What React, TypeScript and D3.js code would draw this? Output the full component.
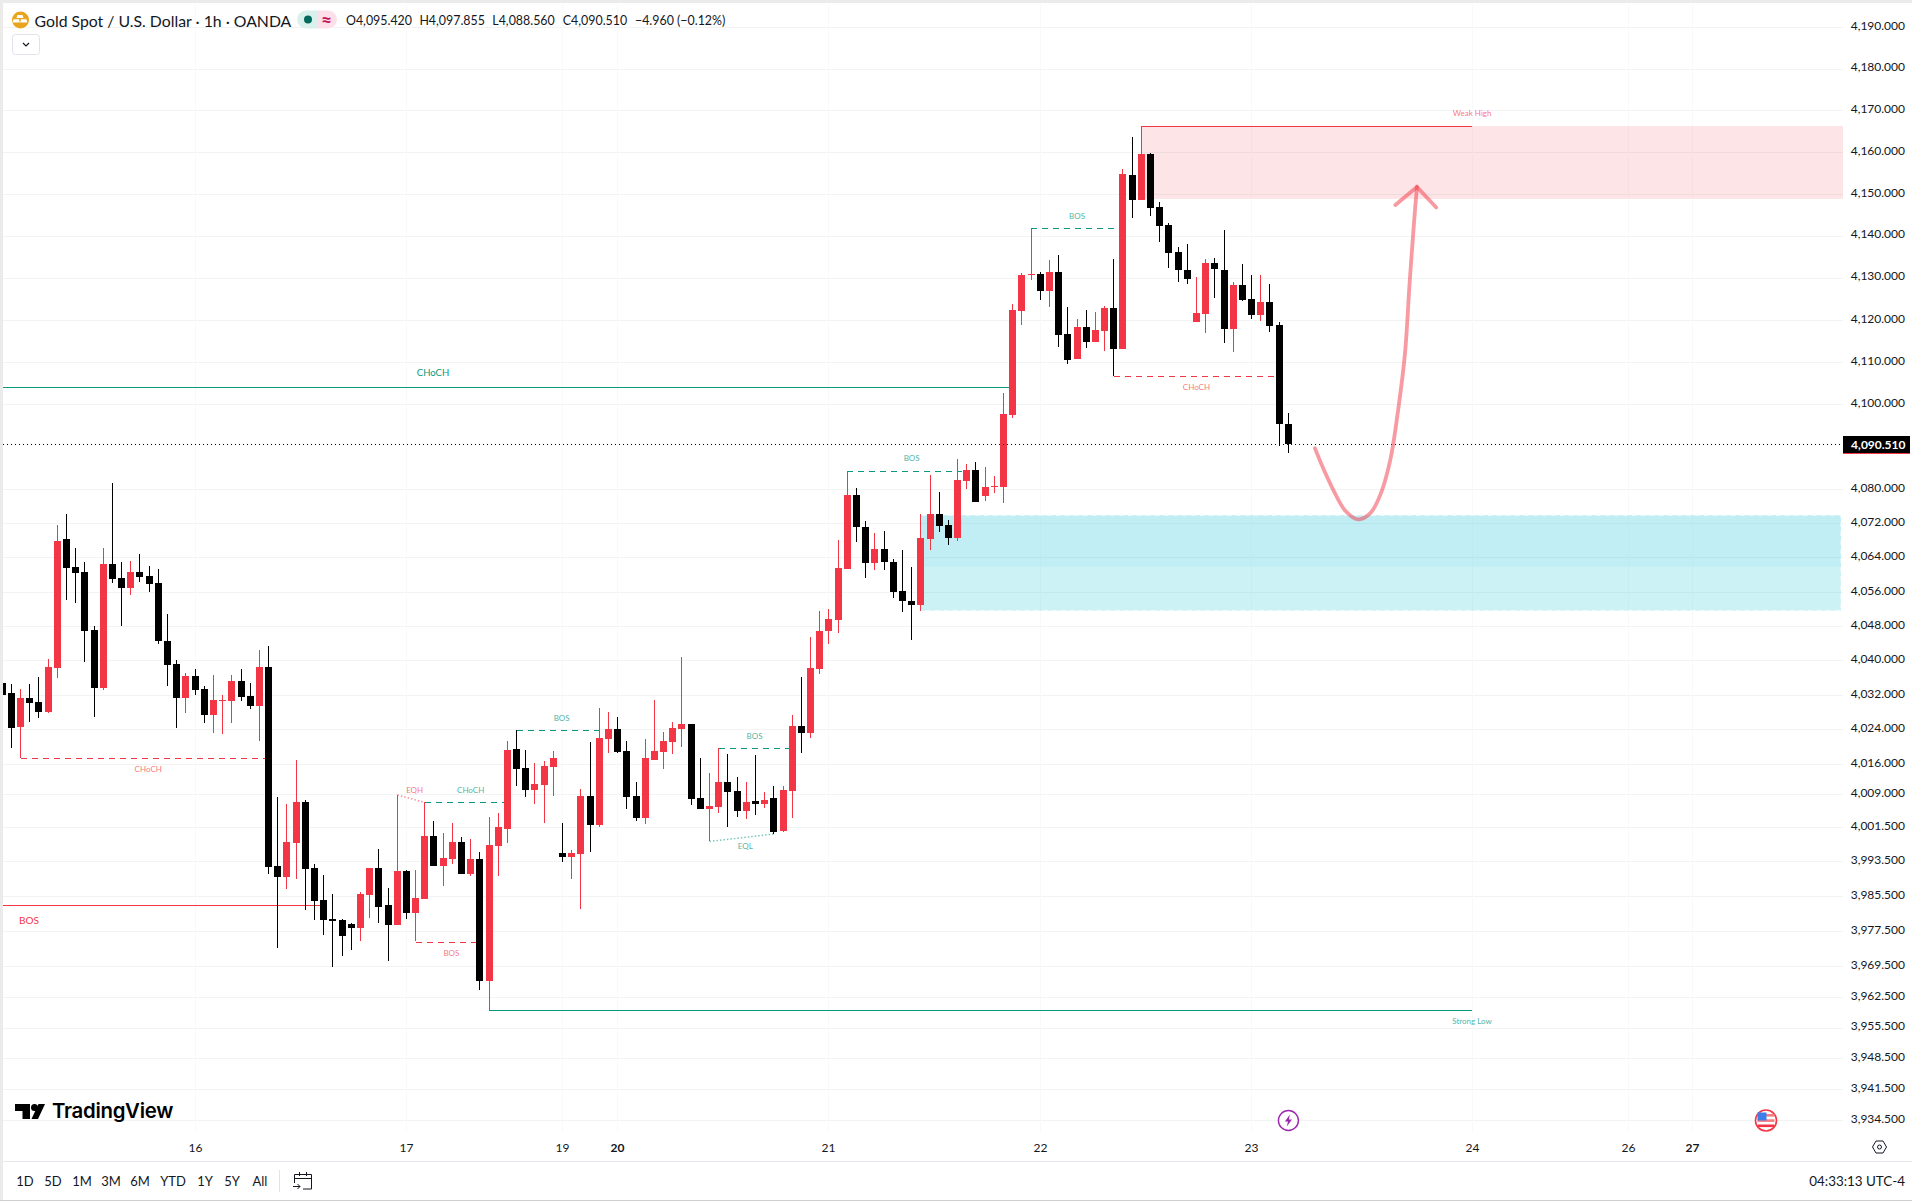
import React from "react";
import * as d3 from "d3";

const highs = [4034.8,4034.6,4033.4,4034.6,4036.2,4040.3,4071.6,4074.2,4066.1,4062.9,
4048.0,4066.2,4081.5,4062.9,4063.2,4064.8,4062.0,4061.2,4050.8,4040.1,
4037.1,4038.0,4034.1,4036.7,4032.0,4036.7,4038.0,4034.7,4042.4,4043.3,
4008.3,4006.7,4016.9,4007.7,3992.9,3990.4,3986.1,3980.3,3979.3,3986.5,
3992.0,3996.3,3987.4,4008.8,3991.6,3991.5,4007.1,4002.8,4000.1,4002.4,
3999.1,3998.6,3995.7,4003.7,4004.6,4021.3,4023.8,4019.2,4016.2,4016.7,
4019.0,4002.3,3996.1,4010.2,4021.0,4028.9,4028.0,4026.8,4021.3,4011.8,
4021.7,4030.8,4023.4,4025.7,4040.8,4025.2,4017.3,4013.8,4019.7,4018.3,
4013.0,4011.8,4018.0,4009.5,4010.9,4010.9,4027.3,4036.1,4045.4,4051.5,
4051.9,4068.1,4084.2,4080.3,4072.5,4069.7,4070.2,4063.6,4065.7,4061.8,
4074.2,4083.3,4079.3,4072.8,4087.1,4085.9,4086.4,4085.2,4083.1,4102.7,
4123.7,4131.1,4141.7,4131.3,4134.2,4135.4,4123.0,4120.2,4122.3,4121.8,
4123.2,4134.4,4155.9,4163.6,4166.2,4159.7,4148.0,4143.0,4137.3,4138.0,
4130.1,4134.4,4134.6,4141.3,4129.0,4133.2,4130.6,4130.6,4128.5,4119.5,4097.855];

const lows = [4032.0,4019.7,4017.3,4025.7,4026.7,4027.7,4035.9,4054.0,4053.4,4039.6,
4026.9,4033.1,4058.0,4048.0,4055.2,4058.3,4055.9,4043.8,4034.1,4024.4,
4027.8,4032.0,4025.5,4023.2,4022.9,4025.5,4030.6,4028.8,4021.3,3990.6,
3973.7,3987.2,3989.5,3982.3,3980.1,3976.7,3969.3,3971.9,3973.2,3975.2,
3980.5,3979.4,3970.7,3979.0,3980.3,3975.2,3984.9,3992.5,3987.9,3992.9,
3990.6,3990.2,3964.1,3959.6,3990.1,3997.7,4010.9,4008.3,4006.7,4002.3,
4008.6,3993.4,3989.5,3982.6,3995.7,4001.4,4018.5,4018.5,4005.6,4002.8,
4002.1,4016.9,4014.8,4018.3,4019.9,4006.5,4005.6,3998.1,4004.6,4001.4,
4003.7,4003.3,4004.2,4005.8,3999.8,4000.3,4003.5,4018.5,4022.0,4036.8,
4043.8,4046.4,4061.3,4067.6,4059.2,4061.1,4061.1,4054.5,4051.2,4044.7,
4051.5,4065.7,4070.0,4066.9,4067.9,4080.0,4077.0,4077.2,4079.1,4076.8,
4096.8,4118.8,4129.4,4124.7,4123.0,4113.5,4109.5,4110.7,4113.3,4114.7,
4112.6,4106.6,4113.1,4144.2,4148.5,4144.7,4138.5,4132.3,4128.9,4128.5,
4119.5,4116.9,4125.2,4114.5,4112.4,4124.4,4120.2,4119.7,4117.1,4090.2,4088.56];

const opens = [4034.8,4032.3,4024.6,4031.3,4030.4,4028.0,4038.3,4068.2,4061.7,4060.6,
4047.0,4033.6,4062.4,4059.1,4056.8,4060.6,4059.6,4058.0,4044.4,4039.2,
4031.3,4036.4,4033.4,4027.2,4030.6,4030.6,4035.2,4031.8,4029.5,4038.5,
3992.5,3989.9,3997.8,4007.2,3992.0,3984.6,3980.3,3980.1,3979.2,3978.2,
3985.8,3992.0,3983.5,3979.0,3991.4,3981.7,3984.9,3999.4,3992.5,3994.0,
3998.0,3990.6,3994.0,3966.1,3997.0,4001.0,4019.4,4015.0,4010.0,4011.1,
4015.3,3995.4,3994.5,3995.2,4008.6,4001.9,4021.7,4024.1,4019.0,4008.6,
4003.5,4016.9,4018.7,4021.0,4024.1,4025.2,4008.0,4005.6,4006.0,4011.8,
4009.7,4005.1,4007.4,4006.7,4008.0,4000.5,4009.7,4024.8,4023.1,4038.0,
4046.8,4049.4,4061.3,4078.6,4071.1,4062.7,4066.0,4062.9,4056.1,4053.8,
4052.9,4068.3,4074.2,4071.6,4068.6,4081.9,4084.5,4078.4,4080.5,4080.5,
4097.5,4122.1,4130.6,4130.9,4126.8,4131.3,4116.6,4110.7,4118.3,4114.7,
4117.3,4122.8,4113.1,4154.5,4148.5,4159.5,4146.8,4142.5,4136.1,4131.8,
4119.5,4121.4,4133.5,4131.8,4117.8,4128.2,4124.9,4121.1,4124.2,4118.8,4095.42];

const closes = [4032.0,4024.4,4031.3,4030.1,4028.0,4038.5,4067.9,4061.5,4060.3,4046.8,
4033.6,4062.4,4058.9,4056.8,4060.6,4059.4,4057.8,4044.4,4039.0,4031.3,
4036.4,4033.1,4027.2,4030.8,4030.8,4035.2,4031.5,4029.5,4038.5,3992.2,
3989.9,3998.0,4007.2,3991.7,3984.4,3980.1,3979.9,3976.5,3978.2,3986.1,
3992.0,3983.1,3979.0,3991.4,3981.7,3985.1,3999.4,3992.5,3994.3,3998.0,
3990.6,3994.0,3966.2,3997.3,4001.4,4019.2,4014.8,4010.0,4011.3,4015.5,
4017.3,3994.5,3995.4,4008.6,4001.9,4022.0,4024.1,4018.7,4008.3,4003.5,
4017.3,4019.0,4021.3,4024.3,4025.2,4007.9,4005.6,4006.2,4011.8,4009.5,
4005.1,4007.2,4006.7,4007.6,4000.3,4010.0,4024.8,4023.1,4038.2,4046.8,
4049.6,4061.5,4078.6,4071.1,4062.7,4066.0,4062.9,4055.9,4053.8,4052.9,
4068.6,4074.2,4071.4,4068.6,4082.2,4084.5,4077.0,4080.5,4080.7,4097.7,
4122.3,4130.6,4130.9,4126.8,4131.3,4116.4,4110.5,4118.3,4114.7,4117.6,
4122.8,4113.1,4154.7,4148.5,4159.5,4146.6,4142.3,4135.9,4131.8,4129.7,
4121.6,4133.5,4132.1,4117.8,4128.2,4124.7,4121.1,4124.2,4118.5,4095.4,4090.51];

const priceTicks = [4190,4180,4170,4160,4150,4140,4130,4120,4110,4100,4080,4072,4064,4056,4048,4040,4032,4024,4016,4009,4001.5,3993.5,3985.5,3977.5,3969.5,3962.5,3955.5,3948.5,3941.5,3934.5];
const dateBars = [21,44,61,67,90,113,136,160,177,184];
const dateLabels = ["16","17","19","20","21","22","23","24","26","27"];
const boldDates = ["20","27"];
const rangeButtons = ["1D","5D","1M","3M","6M","YTD","1Y","5Y","All"];
const ohlcLegend = ["O4,095.420","H4,097.855","L4,088.560","C4,090.510","−4.960 (−0.12%)"];
const lastPrice = 4090.51;

// structure lines: [bar from, bar to, price, price at end]
const solidGreen = [[-1,110,4104.0,4104.0],[53,160,3959.6,3959.6]];
const solidRed = [[-1,34.6,3983.4,3983.4],[124,160,4166.2,4166.2]];
const dashGreen = [[46,55,4007.1,4007.1],[56,65,4023.75,4023.75],[78,86,4019.6,4019.6],[92,104.5,4084.2,4084.2],[112,122,4141.7,4141.7]];
const dashRed = [[2,29,4017.3,4017.3],[45,52,3975.1,3975.1],[121,139,4106.6,4106.6]];
const dotRed = [[43,46,4008.8,4007.1]];
const dotGreen = [[77,84,3998.1,3999.8]];

const fadedRedLabels: [string,number,number][] = [["CHoCH",15.9,4014.8],["EQH",44.9,4010.0],["BOS",48.9,3972.4],["CHoCH",130,4104.0],["Weak High",160,4169.2]];
const fadedGreenLabels: [string,number,number][] = [["CHoCH",51,4010.0],["BOS",60.9,4026.5],["BOS",81.9,4022.4],["EQL",80.9,3997.1],["BOS",99,4087.3],["BOS",117,4144.6],["Strong Low",160,3956.9]];

const supplyZone = [124,4166.2,4148.75];
const demandZone = [100,4073.9,4051.55];
const demandOverlap = [100,4073.9,4061.8];

const curveBars = [142.9,143.8,144.9,146.2,147.6,148.9,150.0,151.1,152.0,152.7,153.2,153.7,154.0];
const curvePrices = [4089.6,4084.9,4079.8,4074.95,4072.9,4074.3,4078.6,4086.9,4099.4,4112.05,4128.6,4143.7,4151.6];
const arrowBars = [151.65,154.0,156.1];
const arrowPrices = [4147.3,4151.6,4146.7];

const FONT = "Lato, 'Open Sans', sans-serif";
const INK = "#131722";
const RED = "#f23645";
const GREEN = "#089981";
const PLOT_L = 3, PLOT_R = 1843, PLOT_B = 1132;
const LEGEND_X = [346,419.4,492.3,562.8,635];
const RANGE_X = [25,53,82,111,140,173,205,232,260];

export default function App() {
  const x = d3.scaleLinear().domain([0,140]).range([2.15,1288.33]);
  const y = d3.scaleLog().domain([4190,3934.5]).range([27,1120]);
  const cx = (b:number)=>Math.floor(x(b))+0.5;
  const line = d3.line<number>().x((_,i)=>x(curveBars[i])).y(d=>y(d)).curve(d3.curveCatmullRom.alpha(0.5));
  const arrow = d3.line<number>().x((_,i)=>x(arrowBars[i])).y(d=>y(d));
  const fmt = d3.format(",.3f");
  const seg = (s:number[],k:string,stroke:string,extra:any={}) => (
    <line key={k} x1={x(s[0])} x2={x(s[1])} y1={Math.round(y(s[2]))+0.5} y2={Math.round(y(s[3]))+0.5} stroke={stroke} strokeWidth={1} {...extra}/>
  );
  const zone = (z:number[],k:string,fill:string,right:number) => (
    <rect key={k} x={x(z[0])} y={y(z[1])} width={right-x(z[0])} height={y(z[2])-y(z[1])} fill={fill}/>
  );
  return (
    <svg width={1912} height={1201} style={{position:"absolute",left:0,top:0,display:"block",background:"#fff"}} fontFamily={FONT}>
      <defs>
        <clipPath id="plot"><rect x={PLOT_L} y={3} width={PLOT_R-PLOT_L} height={PLOT_B-3}/></clipPath>
      </defs>
      {/* grid */}
      <g shapeRendering="crispEdges">
        {priceTicks.map(t=>(<line key={t} x1={PLOT_L} x2={PLOT_R} y1={Math.round(y(t))+0.5} y2={Math.round(y(t))+0.5} stroke="#f2f3f3"/>))}
        {dateBars.map(b=>(<line key={b} x1={cx(b)} x2={cx(b)} y1={3} y2={PLOT_B} stroke="#f9f9fa"/>))}
      </g>
      <g clipPath="url(#plot)">
        {/* zones */}
        {zone(supplyZone,"sup","rgba(242,54,69,0.13)",PLOT_R)}
        {zone(demandZone,"dem","rgba(0,188,212,0.2)",1841)}
        {zone(demandOverlap,"dem2","rgba(0,188,212,0.055)",1841)}
        <rect x={x(demandZone[0])} y={y(demandZone[1])} width={1841-x(demandZone[0])} height={y(demandZone[2])-y(demandZone[1])} fill="none" stroke="#fff" strokeOpacity={0.85} strokeDasharray="5 4"/>
        {/* structure */}
        <g shapeRendering="crispEdges">
          {solidGreen.map((s,i)=>seg(s,"sg"+i,GREEN))}
          {solidRed.map((s,i)=>seg(s,"sr"+i,RED))}
          {dashGreen.map((s,i)=>seg(s,"dg"+i,GREEN,{strokeDasharray:"6 5"}))}
          {dashRed.map((s,i)=>seg(s,"dr"+i,RED,{strokeDasharray:"6 5"}))}
        </g>
        {dotRed.map((s,i)=>(<line key={"dtr"+i} x1={cx(s[0])} x2={cx(s[1])} y1={y(s[2])} y2={y(s[3])} stroke={RED} strokeOpacity={0.55} strokeWidth={1.5} strokeDasharray="1.5 2"/>))}
        {dotGreen.map((s,i)=>(<line key={"dtg"+i} x1={cx(s[0])} x2={cx(s[1])} y1={y(s[2])} y2={y(s[3])} stroke={GREEN} strokeOpacity={0.55} strokeWidth={1.5} strokeDasharray="1.5 2"/>))}
        {/* candles */}
        <g shapeRendering="crispEdges">
          {closes.map((c,i)=>{
            const up = c>=opens[i];
            const col = up?RED:"#000000";
            const t = Math.round(y(Math.max(c,opens[i])));
            const b = Math.round(y(Math.min(c,opens[i])));
            const h = Math.round(y(highs[i]));
            const l = Math.round(y(lows[i]));
            const m = cx(i);
            return <g key={i} fill={col}>
              <rect x={m-0.5} y={h} width={1} height={Math.max(l-h,1)}/>
              <rect x={m-3.5} y={t} width={7} height={Math.max(b-t,1)}/>
            </g>;
          })}
        </g>
        {/* last price */}
        <line x1={PLOT_L} x2={PLOT_R} y1={Math.round(y(lastPrice))+0.5} y2={Math.round(y(lastPrice))+0.5} stroke="#000" strokeDasharray="1 3"/>
        {/* labels */}
        <text x={x(46.9)} y={y(4107.6)} textAnchor="middle" dominantBaseline="central" fontSize={9.5} fill={GREEN}>CHoCH</text>
        <text x={x(2.92)} y={y(3979.96)} textAnchor="middle" dominantBaseline="central" fontSize={10} fill={RED}>BOS</text>
        {fadedRedLabels.map((l,i)=>(<text key={"fr"+i} x={x(l[1])} y={y(l[2])} textAnchor="middle" dominantBaseline="central" fontSize={8} fill={RED} fillOpacity={0.7}>{l[0]}</text>))}
        {fadedGreenLabels.map((l,i)=>(<text key={"fg"+i} x={x(l[1])} y={y(l[2])} textAnchor="middle" dominantBaseline="central" fontSize={8} fill={GREEN} fillOpacity={0.75}>{l[0]}</text>))}
        {/* projected path */}
        <path d={line(curvePrices)!} fill="none" stroke={RED} strokeOpacity={0.5} strokeWidth={3.8} strokeLinecap="round"/>
        <path d={arrow(arrowPrices)!} fill="none" stroke={RED} strokeOpacity={0.5} strokeWidth={3.8} strokeLinecap="round" strokeLinejoin="miter"/>
      </g>

      {/* price axis */}
      {priceTicks.map(t=>(<text key={t} x={1905} y={y(t)-1.6} textAnchor="end" dominantBaseline="central" fontSize={12} fill={INK}>{fmt(t)}</text>))}
      <rect x={1843} y={436} width={67} height={18} fill="#000"/>
      <rect x={1843} y={453} width={67} height={1} fill={RED}/>
      <text x={1905.5} y={444} textAnchor="end" dominantBaseline="central" fontSize={12} fontWeight={700} fill="#fff">{fmt(lastPrice)}</text>

      {/* date axis */}
      {dateBars.map((b,i)=>(<text key={b} x={cx(b)} y={1147} textAnchor="middle" dominantBaseline="central" fontSize={12} fontWeight={boldDates.includes(dateLabels[i])?700:400} fill={INK}>{dateLabels[i]}</text>))}
      <g transform="translate(1879.5,1147)" fill="none" stroke={INK} strokeWidth={1}>
        <polygon points="-7,0 -3.5,-6 3.5,-6 7,0 3.5,6 -3.5,6"/>
        <circle r={2}/>
      </g>

      {/* event markers */}
      <g transform="translate(1288.4,1120.5)">
        <circle r={10} fill="#fff" stroke="#9c27b0" strokeWidth={1.4}/>
        <path d="M1.5,-6 L-3.5,1 L-0.5,1 L-1.5,6 L3.5,-1 L0.5,-1 Z" fill="#9c27b0"/>
      </g>
      <g transform="translate(1766,1120.5)">
        <circle r={10.5} fill="#fff" stroke={RED} strokeWidth={1.6}/>
        <rect x={-8.5} y={-6.5} width={17} height={2.6} fill="#f77c80"/>
        <rect x={-8.5} y={-1.2} width={17} height={2.6} fill="#f77c80"/>
        <rect x={-8} y={4} width={16} height={2.6} fill={RED}/>
        <rect x={-8.5} y={-8} width={9} height={8} fill="#3d7ee8"/>
      </g>

      {/* logo */}
      <g fill="#000">
        <path d="M15,1104 H30 V1119 H22.5 V1111 H15 Z"/>
        <circle cx={34.5} cy={1107.5} r={3.5}/>
        <path d="M38.5,1104 H45 L38,1119 H31.5 Z"/>
        <text x={52} y={1118} fontFamily="Inter, sans-serif" fontWeight={600} fontSize={20.4} letterSpacing={-0.3}>TradingView</text>
      </g>

      {/* header */}
      <circle cx={20.5} cy={20} r={8.5} fill="#e8a41c"/>
      <path d="M17.5,15.5 h5 l1,3.2 h-7 Z M13.5,19.8 h5.5 l0.8,3.4 h-7.2 Z M21,19.8 h5.5 l0.8,3.4 h-7.2 Z" fill="#fff" transform="translate(0,-0.6)"/>
      <text x={34.5} y={20} dominantBaseline="central" fontSize={15.8} fill={INK}>Gold Spot / U.S. Dollar · 1h · OANDA</text>
      <path d="M306,10.5 H317 V28.5 H306 A9,9 0 0 1 306,10.5 Z" fill="#daf0ec"/>
      <path d="M317,10.5 H328 A9,9 0 0 1 328,28.5 H317 Z" fill="#fcdfe8"/>
      <circle cx={308} cy={19.5} r={4} fill="#006b5c"/>
      <text x={326.5} y={19} textAnchor="middle" dominantBaseline="central" fontSize={19} fontWeight={700} fill="#c2185b">≈</text>
      {ohlcLegend.map((t,i)=>(<text key={t} x={LEGEND_X[i]} y={20} dominantBaseline="central" fontSize={12.4} fill={INK}>{t}</text>))}
      <rect x={12.5} y={34.5} width={27} height={20} rx={3} fill="#fff" stroke="#e0e3eb"/>
      <path d="M23,43 L26,46 L29,43" fill="none" stroke={INK} strokeWidth={1.2}/>

      {/* bottom bar */}
      <line x1={3} x2={1912} y1={1161.5} y2={1161.5} stroke="#e6e8ee"/>
      {rangeButtons.map((r,i)=>(<text key={r} x={RANGE_X[i]} y={1181} textAnchor="middle" dominantBaseline="central" fontSize={13} fill={INK}>{r}</text>))}
      <line x1={279.5} x2={279.5} y1={1170} y2={1192} stroke="#e0e3eb"/>
      <g fill="none" stroke={INK} strokeWidth={1}>
        <path d="M294.5,1183 V1174.5 H311.5 V1189 H303"/>
        <path d="M294.5,1178.5 H311.5 M299.5,1172 V1176 M306.5,1172 V1176"/>
        <path d="M293,1186.5 H300 M297.5,1184 L300,1186.5 L297.5,1189"/>
      </g>
      <text x={1905} y={1181} textAnchor="end" dominantBaseline="central" fontSize={13.4} fill={INK}>04:33:13 UTC-4</text>

      {/* window edge */}
      <rect x={0} y={0} width={1912} height={3} fill="#ebebeb"/>
      <rect x={0} y={0} width={3} height={1201} fill="#ebebeb"/>
      <rect x={0} y={1200} width={1912} height={1} fill="#cfcfcf"/>
    </svg>
  );
}
